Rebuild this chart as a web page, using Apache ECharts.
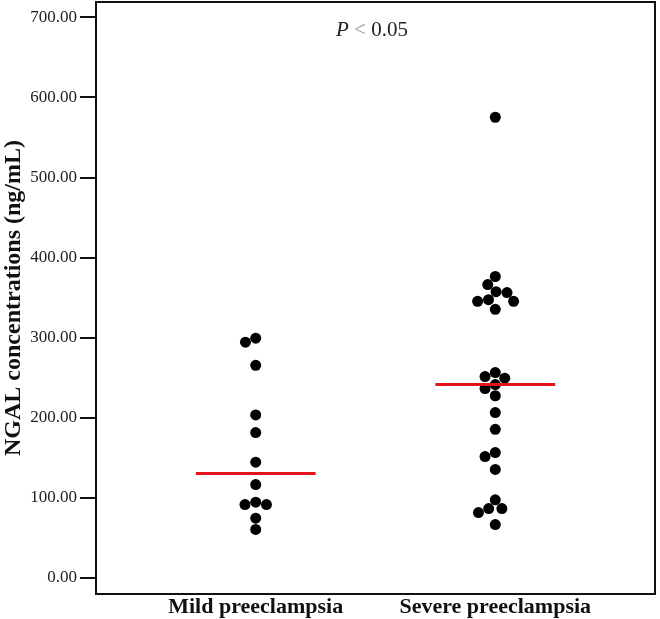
<!DOCTYPE html>
<html>
<head>
<meta charset="utf-8">
<script src="https://cdn.jsdelivr.net/npm/echarts@6/dist/echarts.min.js"></script>
<style>html,body{margin:0;padding:0;background:#fff}#c{width:660px;height:619px}</style>
</head>
<body>
<div id="c"></div>
<script>
// ---- data ----
const categories = ['Mild preeclampsia', 'Severe preeclampsia'];
const categoryPositions = [1, 2];
const mildValues = [299, 294, 265, 203, 181, 144, 116, 94, 91, 91, 74, 60];
const severeValues = [575, 376, 366, 357, 356, 347, 345, 345, 335, 256, 251, 249, 241, 236, 227, 206, 185, 156, 151, 135, 97, 86, 86, 81, 66];
const yTickValues = [0, 100, 200, 300, 400, 500, 600, 700];
const yAxisTitle = 'NGAL concentrations (ng/mL)';
const pText = '{i|P} {g|<} 0.05';

// ---- style constants ----
const DOT = 11;
const SERIF = '"Liberation Serif", "Times New Roman", serif';
const RED = '#e5141c';

function median(arr) {
  const s = arr.slice().sort((a, b) => a - b);
  const n = s.length;
  return n % 2 ? s[(n - 1) / 2] : (s[n / 2 - 1] + s[n / 2]) / 2;
}

const chart = echarts.init(document.getElementById('c'), null, { renderer: 'canvas' });

const groups = [mildValues, severeValues];

function baseOption() {
  return {
    animation: false,
    backgroundColor: '#fff',
    title: {
      text: pText,
      left: 331, top: 15,
      textStyle: {
        fontFamily: SERIF, fontSize: 21, color: '#222', fontWeight: 'normal',
        rich: {
          i: { fontFamily: SERIF, fontSize: 21, fontStyle: 'italic', color: '#222' },
          g: { fontFamily: SERIF, fontSize: 21, color: '#999' }
        }
      }
    },
    grid: {
      left: 96, right: 5, top: 2, bottom: 25,
      show: true, borderColor: '#111', borderWidth: 2,
      containLabel: false, outerBoundsMode: 'none'
    },
    xAxis: {
      type: 'value', min: 1 / 3, max: 8 / 3,
      axisLine: { show: true, onZero: false, lineStyle: { color: '#111', width: 2 } },
      axisTick: { show: false },
      splitLine: { show: false },
      axisLabel: {
        customValues: categoryPositions,
        formatter: v => categories[categoryPositions.indexOf(Math.round(v))] || '',
        fontFamily: SERIF, fontWeight: 'bold', fontSize: 22, color: '#111', margin: 2
      }
    },
    yAxis: {
      type: 'value', min: -20.7, max: 719,
      name: yAxisTitle, nameLocation: 'middle', nameGap: 70, nameMoveOverlap: false,
      nameTextStyle: { fontFamily: SERIF, fontWeight: 'bold', fontSize: 24, color: '#111' },
      axisLine: { show: true, onZero: false, lineStyle: { color: '#111', width: 2 } },
      axisTick: { show: true, customValues: yTickValues, length: 16, lineStyle: { color: '#111', width: 2 } },
      splitLine: { show: false },
      axisLabel: {
        customValues: yTickValues,
        formatter: v => Number(v).toFixed(2),
        fontFamily: SERIF, fontSize: 17, color: '#222', margin: 19
      }
    },
    series: []
  };
}

chart.setOption(baseOption());

function swarm(values, cat) {
  const cx = chart.convertToPixel({ gridIndex: 0 }, [cat, 0])[0];
  const order = values.map((v, i) => i).sort((a, b) => values[b] - values[a]);
  const placed = [];
  const out = new Array(values.length);
  for (const i of order) {
    const py = chart.convertToPixel({ gridIndex: 0 }, [cat, values[i]])[1];
    const near = placed.filter(p => Math.abs(p.y - py) < DOT);
    const cands = [0];
    near.forEach(p => {
      const dx = Math.sqrt(DOT * DOT - (p.y - py) * (p.y - py));
      cands.push(p.x - dx, p.x + dx);
    });
    cands.sort((a, b) => Math.abs(a) - Math.abs(b) || a - b);
    const x = cands.find(c => near.every(p => (p.x - c) * (p.x - c) + (p.y - py) * (p.y - py) >= DOT * DOT - 1e-6));
    placed.push({ x: x, y: py });
    out[i] = [chart.convertFromPixel({ gridIndex: 0 }, [cx + x, py])[0], values[i]];
  }
  return out;
}

const series = [];
groups.forEach((vals, gi) => {
  const cat = categoryPositions[gi];
  series.push({
    type: 'scatter', symbol: 'circle', symbolSize: DOT,
    itemStyle: { color: '#000', opacity: 1 }, z: 2,
    data: swarm(vals, cat)
  });
  const m = median(vals);
  series.push({
    type: 'line', showSymbol: false, symbol: 'none', z: 3,
    lineStyle: { color: RED, width: 3 },
    data: [[cat - 0.25, m], [cat + 0.25, m]]
  });
});

chart.setOption({ series: series });
</script>
</body>
</html>
